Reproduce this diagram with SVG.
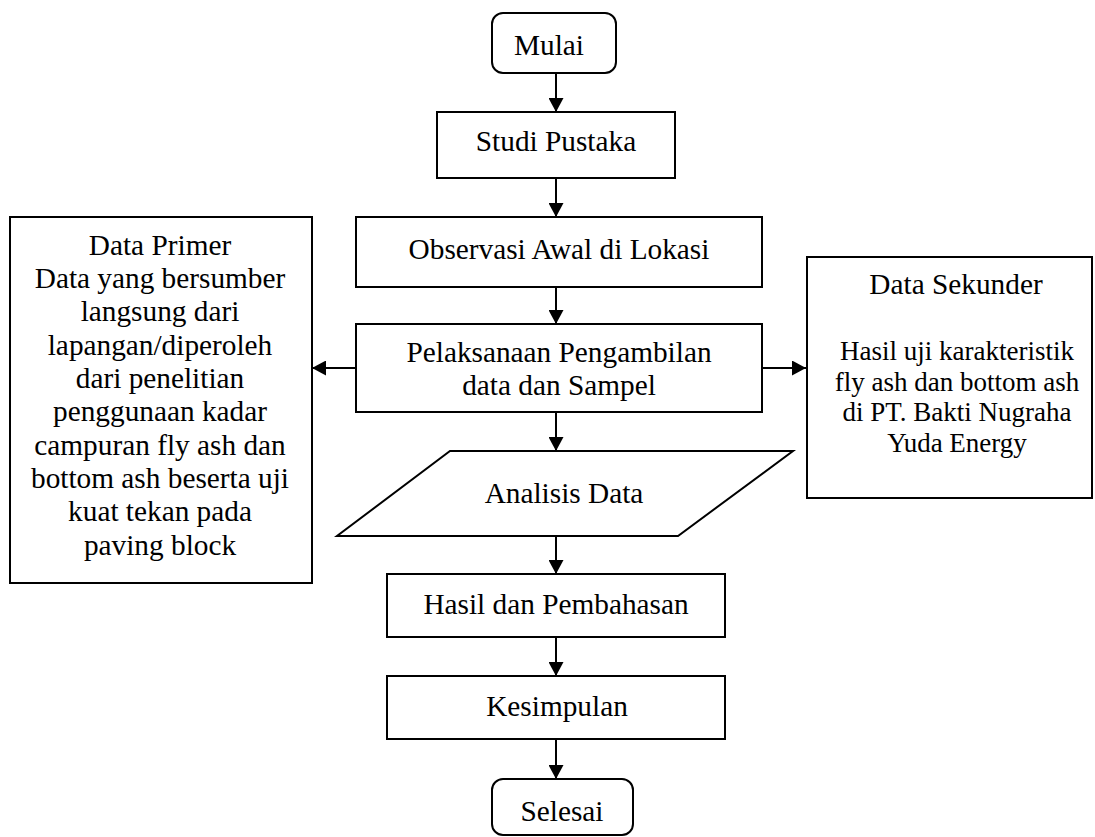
<svg xmlns="http://www.w3.org/2000/svg" width="1095" height="837" viewBox="0 0 1095 837">
<style>
.b{fill:#fff;stroke:#000;stroke-width:2}
.t{font-family:"Liberation Serif","Times New Roman",serif;font-size:29.3px;fill:#000;text-anchor:middle}
.s{font-size:27px}
.c{stroke:#000;stroke-width:2;fill:none;marker-end:url(#ah)}
</style>
<defs>
<marker id="ah" markerUnits="userSpaceOnUse" markerWidth="14" markerHeight="15" refX="14" refY="7.5" orient="auto">
<path d="M0,0 L14,7.5 L0,15 z" fill="#000"/>
</marker>
</defs>
<rect width="1095" height="837" fill="#fff"/>
<g id="connectors">
<line class="c" x1="556" y1="73" x2="556" y2="112"/>
<line class="c" x1="556" y1="178" x2="556" y2="217"/>
<line class="c" x1="556" y1="287" x2="556" y2="324"/>
<line class="c" x1="556" y1="412" x2="556" y2="451"/>
<line class="c" x1="556" y1="536" x2="556" y2="574"/>
<line class="c" x1="556" y1="637" x2="556" y2="676"/>
<line class="c" x1="556" y1="739" x2="556" y2="779"/>
<line class="c" x1="356" y1="368" x2="312" y2="368"/>
<line class="c" x1="762" y1="368" x2="806" y2="368"/>
</g>
<g id="mulai">
<rect class="b" x="492" y="13" width="124" height="60" rx="11"/>
<text class="t" x="549" y="55">Mulai</text>
</g>
<g id="studi">
<rect class="b" x="437" y="112" width="238" height="66"/>
<text class="t" x="556" y="151">Studi Pustaka</text>
</g>
<g id="observasi">
<rect class="b" x="356" y="217" width="406" height="70"/>
<text class="t" x="559" y="259">Observasi Awal di Lokasi</text>
</g>
<g id="pelaksanaan">
<rect class="b" x="356" y="324" width="406" height="88"/>
<text class="t" x="559" y="362">Pelaksanaan Pengambilan</text>
<text class="t" x="559" y="395">data dan Sampel</text>
</g>
<g id="primer">
<rect class="b" x="10" y="217" width="302" height="366"/>
<text class="t" x="160" y="255">Data Primer</text>
<text class="t" x="160" y="288">Data yang bersumber</text>
<text class="t" x="160" y="321">langsung dari</text>
<text class="t" x="160" y="355">lapangan/diperoleh</text>
<text class="t" x="160" y="388">dari penelitian</text>
<text class="t" x="160" y="421">penggunaan kadar</text>
<text class="t" x="160" y="455">campuran fly ash dan</text>
<text class="t" x="160" y="488">bottom ash beserta uji</text>
<text class="t" x="160" y="521">kuat tekan pada</text>
<text class="t" x="160" y="555">paving block</text>
</g>
<g id="sekunder">
<rect class="b" x="807" y="257" width="285" height="241"/>
<text class="t" x="956" y="294">Data Sekunder</text>
<text class="t s" x="957" y="360">Hasil uji karakteristik</text>
<text class="t s" x="957" y="391">fly ash dan bottom ash</text>
<text class="t s" x="957" y="421">di PT. Bakti Nugraha</text>
<text class="t s" x="957" y="452">Yuda Energy</text>
</g>
<g id="analisis">
<polygon class="b" points="450,451 793,451 678,536 337,536"/>
<text class="t" x="564" y="503">Analisis Data</text>
</g>
<g id="hasil">
<rect class="b" x="387" y="574" width="338" height="63"/>
<text class="t" x="556" y="614">Hasil dan Pembahasan</text>
</g>
<g id="kesimpulan">
<rect class="b" x="387" y="676" width="338" height="63"/>
<text class="t" x="557" y="716">Kesimpulan</text>
</g>
<g id="selesai">
<rect class="b" x="492" y="779" width="141" height="56" rx="11"/>
<text class="t" x="562" y="821">Selesai</text>
</g>
</svg>
